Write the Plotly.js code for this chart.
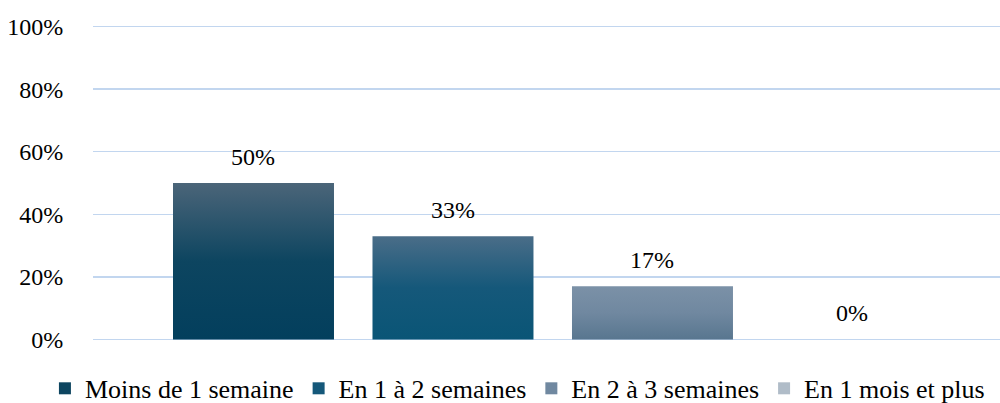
<!DOCTYPE html>
<html>
<head>
<meta charset="utf-8">
<script src="https://cdn.plot.ly/plotly-3.0.1.min.js"></script>
<style>
  body { margin: 0; background: #fff; }
  #chart { width: 1000px; height: 403px; }
</style>
</head>
<body>
<div id="chart"></div>
<script>
// Data
var categories = ['Moins de 1 semaine', 'En 1 à 2 semaines', 'En 2 à 3 semaines', 'En 1 mois et plus'];
var values = [50, 33, 17, 0];
var yTicks = [0, 20, 40, 60, 80, 100];
var yTickLabels = ['0%', '20%', '40%', '60%', '80%', '100%'];

// legend / flat colours and the gradient stops (top, bottom) for each bar
var colors = ['#0d4560', '#15587a', '#7088a0', '#b0bcc8'];
var gradTop = ['#4b6579', '#4a6d88', '#7b91a7', '#c0cad4'];
var gradBottom = ['#033f5d', '#0a5576', '#58768f', '#a0b0c0'];

var font = "'Liberation Serif', 'Times New Roman', serif";

var traces = categories.map(function(name, i) {
  return {
    type: 'bar',
    name: name,
    x: [name],
    y: [values[i]],
    width: 0.807,
    marker: { color: colors[i] },
    hoverinfo: 'none'
  };
});

var annotations = categories.map(function(name, i) {
  return {
    x: name,
    y: values[i],
    xref: 'x',
    yref: 'y',
    text: values[i] + '%',
    showarrow: false,
    yanchor: 'bottom',
    yshift: 11,
    font: { family: font, size: 24, color: '#000' }
  };
});

var layout = {
  width: 1000,
  height: 403,
  margin: { l: 93, r: 0, t: 25, b: 62, autoexpand: false },
  paper_bgcolor: '#fff',
  plot_bgcolor: '#fff',
  font: { family: font, size: 24, color: '#000' },
  barmode: 'overlay',
  showlegend: true,
  xaxis: {
    type: 'category',
    categoryarray: categories,
    range: [-0.8045, 3.742],
    showticklabels: false,
    showgrid: false,
    zeroline: false,
    showline: false,
    fixedrange: true
  },
  yaxis: {
    range: [-0.5, 100.5],
    tickvals: yTicks,
    ticktext: yTickLabels,
    showgrid: true,
    gridcolor: '#c2d6ef',
    gridwidth: 1.5,
    zeroline: false,
    showline: false,
    ticks: 'outside',
    ticklen: 24,
    tickcolor: 'rgba(0,0,0,0)',
    tickfont: { family: font, size: 24, color: '#000' },
    fixedrange: true
  },
  legend: {
    orientation: 'h',
    x: -0.053,
    xanchor: 'left',
    y: -0.15,
    yanchor: 'middle',
    font: { family: font, size: 26, color: '#000' },
    itemclick: false,
    itemdoubleclick: false
  },
  annotations: annotations
};

Plotly.newPlot('chart', traces, layout, { displayModeBar: false, staticPlot: true }).then(function(gd) {
  // vertical gradient on each bar, like the original
  var svg = gd.querySelector('svg.main-svg');
  var ns = 'http://www.w3.org/2000/svg';
  var defs = svg.querySelector('defs') || svg.insertBefore(document.createElementNS(ns, 'defs'), svg.firstChild);
  categories.forEach(function(c, i) {
    var g = document.createElementNS(ns, 'linearGradient');
    g.setAttribute('id', 'bargrad' + i);
    g.setAttribute('x1', '0'); g.setAttribute('y1', '0');
    g.setAttribute('x2', '0'); g.setAttribute('y2', '1');
    [[0, gradTop[i]], [0.5, colors[i]], [1, gradBottom[i]]].forEach(function(s) {
      var st = document.createElementNS(ns, 'stop');
      st.setAttribute('offset', s[0]);
      st.setAttribute('stop-color', s[1]);
      g.appendChild(st);
    });
    defs.appendChild(g);
  });
  gd.querySelectorAll('.barlayer .trace').forEach(function(tr, i) {
    tr.querySelectorAll('path').forEach(function(p) {
      p.style.fill = 'url(#bargrad' + i + ')';
    });
  });
});
</script>
</body>
</html>
